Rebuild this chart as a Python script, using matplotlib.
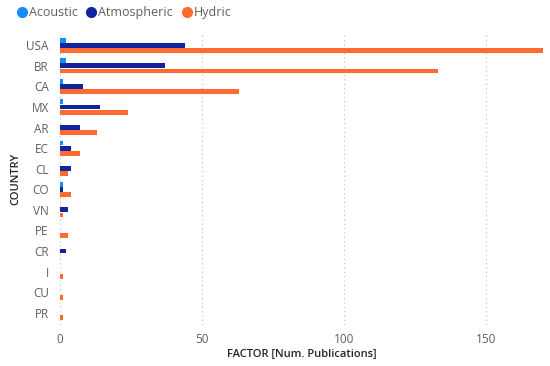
import numpy as np
import matplotlib.pyplot as plt
from matplotlib.lines import Line2D

# --- Data ---
countries = ["USA", "BR", "CA", "MX", "AR", "EC", "CL", "CO", "VN", "PE", "CR", "I", "CU", "PR"]
acoustic = [2, 2, 1, 1, 0, 1, 0, 1, 0, 0, 0, 0, 0, 0]
atmospheric = [44, 37, 8, 14, 7, 4, 4, 1, 3, 0, 2, 0, 0, 0]
hydric = [170, 133, 63, 24, 13, 7, 3, 4, 1, 3, 0, 1, 1, 1]

series = ["Acoustic", "Atmospheric", "Hydric"]
colors = ["#118DFF", "#12239E", "#FF6A30"]

plt.rcParams['font.family'] = ['Open Sans', 'DejaVu Sans']

fig = plt.figure(figsize=(5.5, 3.66), dpi=100)
ax = fig.add_axes([0.109, 0.112, 0.878, 0.798])

y = np.arange(len(countries))
h = 0.25
for i, (vals, c) in enumerate(zip([acoustic, atmospheric, hydric], colors)):
    ax.barh(y + (i - 1) * h, vals, height=h * 0.95, color=c, zorder=3)

ax.set_xlim(0, 170)
ax.set_ylim(len(countries) - 0.4, -0.6)
ax.set_yticks(y)
ax.set_yticklabels(countries)
ax.set_xticks([0, 50, 100, 150])

for s in ax.spines.values():
    s.set_visible(False)
ax.tick_params(length=0, colors="#605E5C", labelsize=8.5, pad=6)
ax.tick_params(axis='y', pad=8)
ax.grid(axis='x', color="#C8C6C4", linestyle=(0, (1, 2.5)), linewidth=0.9, zorder=0)

ax.set_xlabel("FACTOR [Num. Publications]", fontsize=8, color="#252423",
              fontweight='semibold', labelpad=2)
ax.set_ylabel("COUNTRY", fontsize=8, color="#252423", fontweight='semibold', labelpad=4)

handles = [Line2D([], [], marker='o', linestyle='', markersize=7, color=c) for c in colors]
fig.legend(handles, series, loc='upper left', bbox_to_anchor=(0.008, 1.013), ncol=3,
           frameon=False, handletextpad=0.05, columnspacing=0.6, handlelength=1.0,
           fontsize=9, labelcolor="#605E5C")

fig.savefig("out.png", dpi=100)
